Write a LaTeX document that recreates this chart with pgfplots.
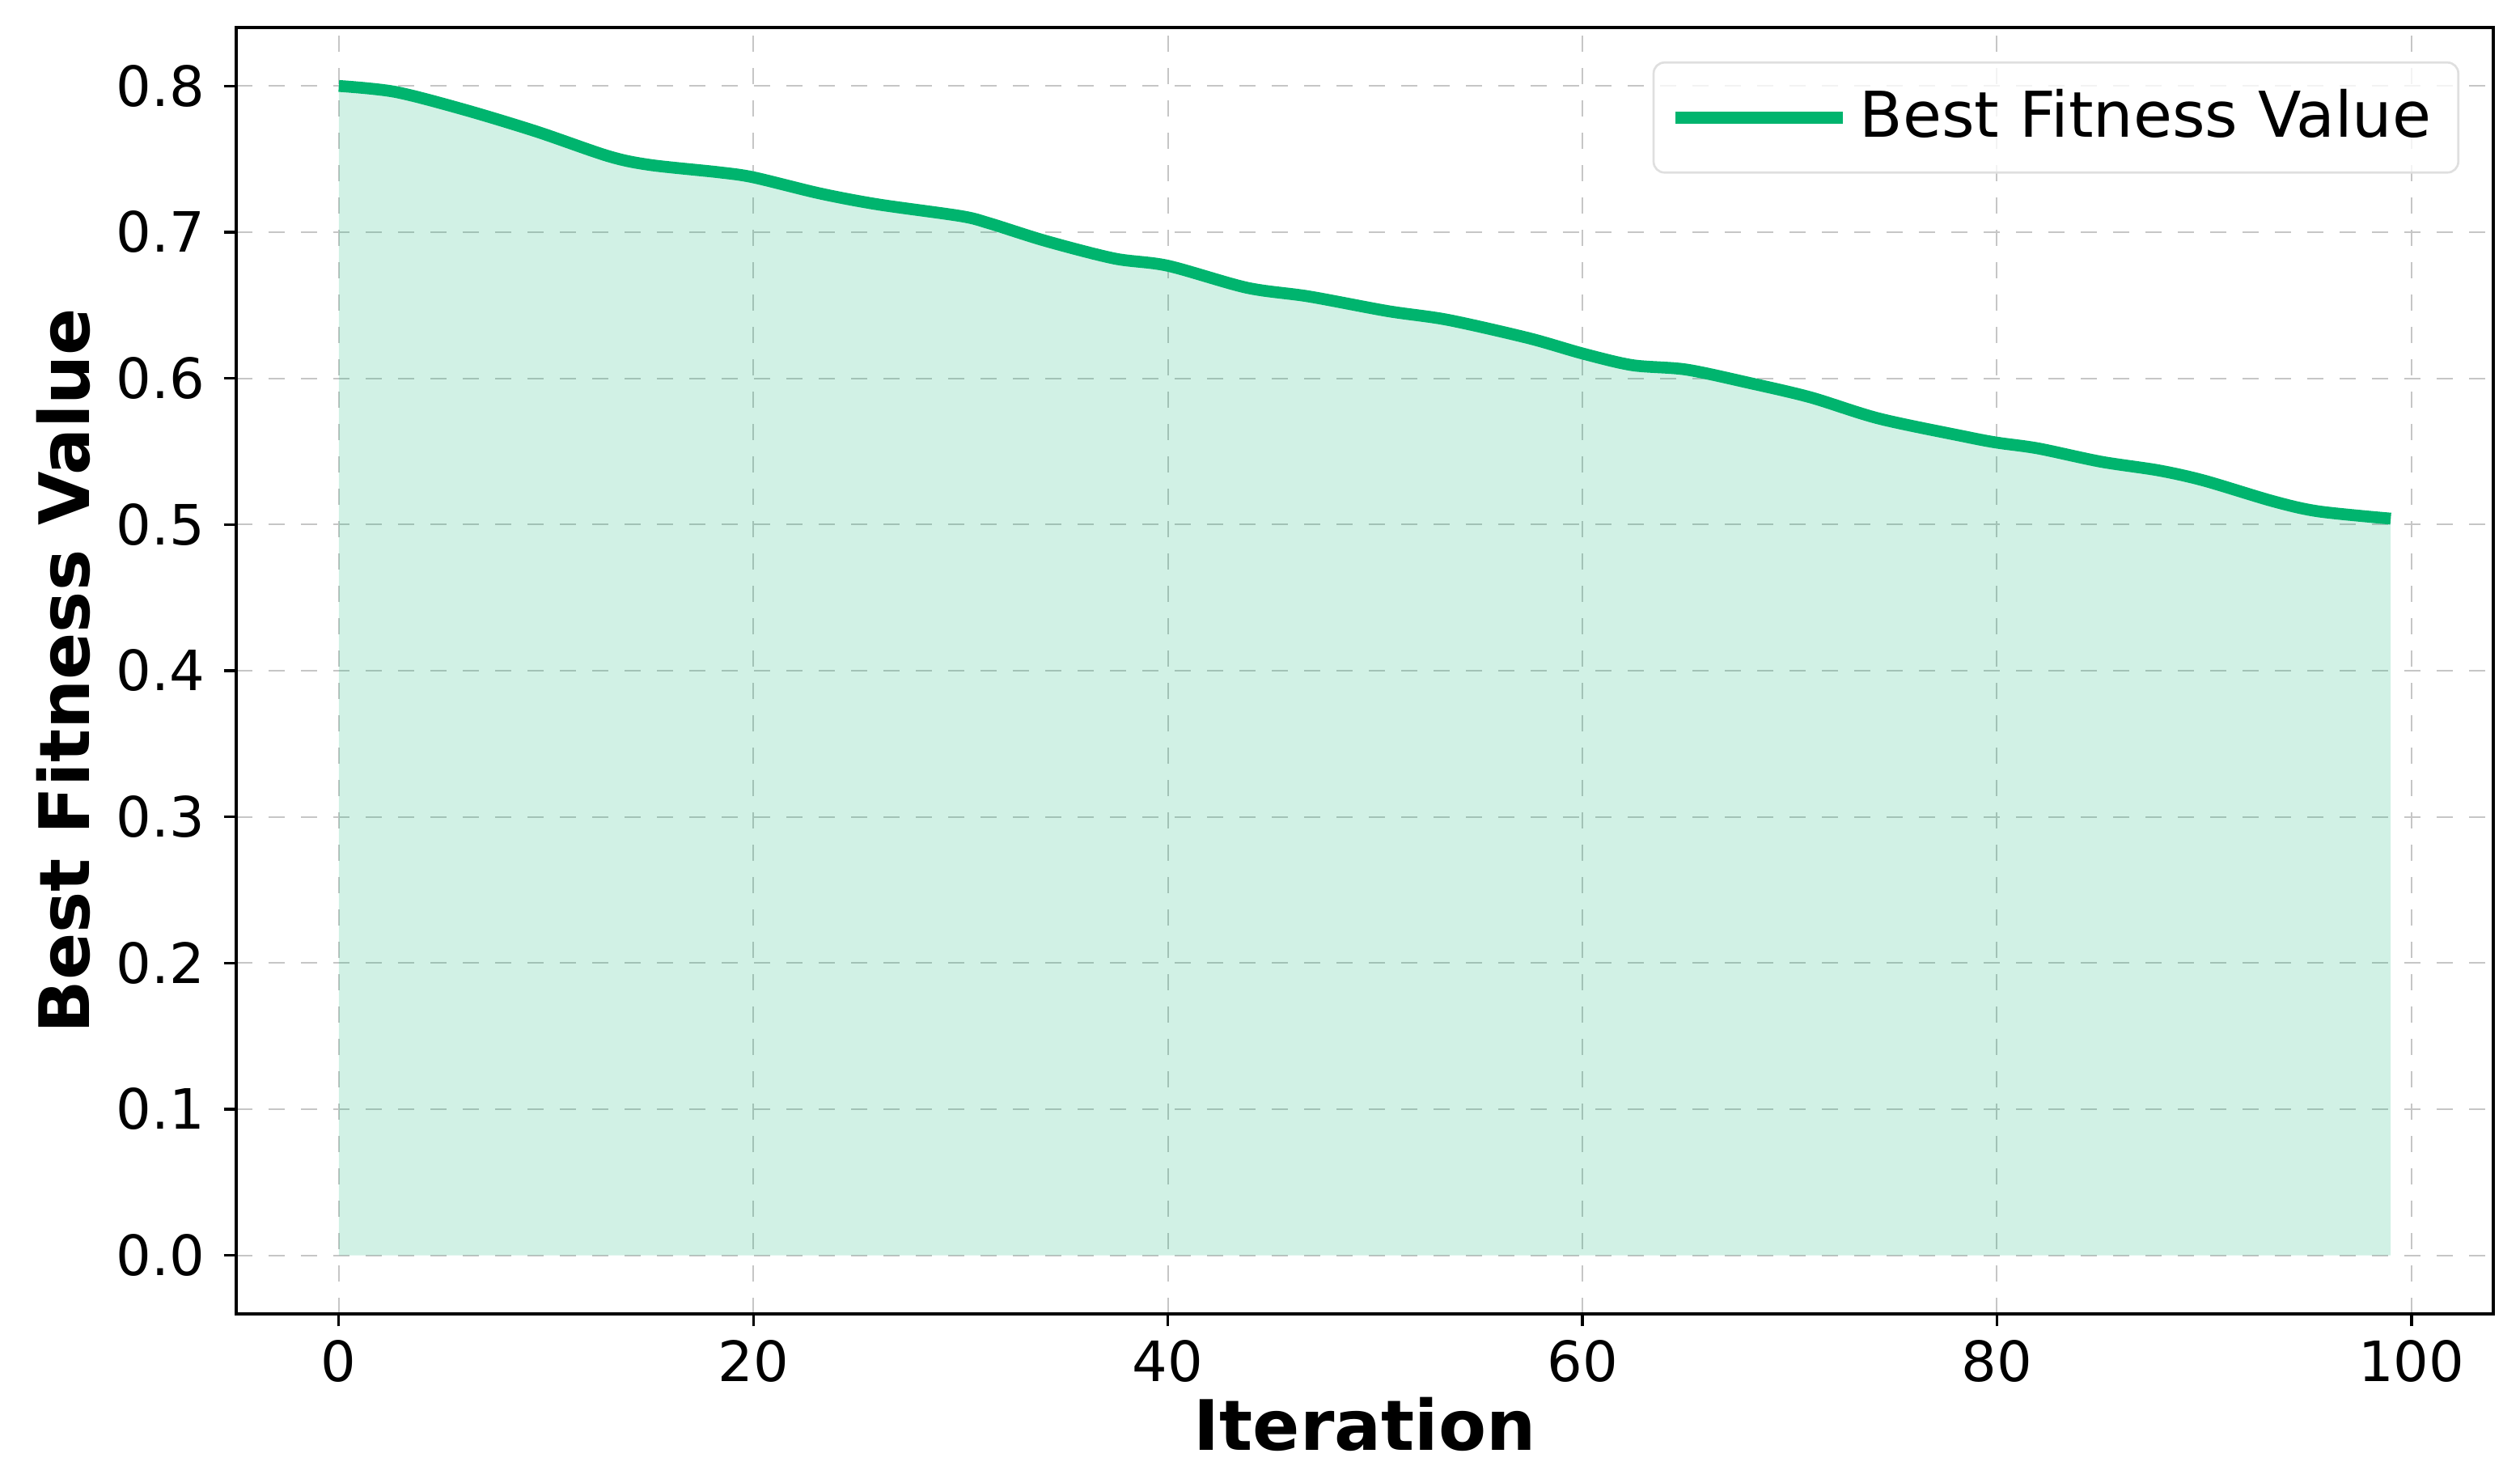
\documentclass[border=0pt]{standalone}
\usepackage{pgfplots}
\pgfplotsset{compat=1.18}
\usepackage{fontspec}
\setmainfont{DejaVu Sans}
\definecolor{linegreen}{RGB}{0,180,110}
\begin{document}
\begin{tikzpicture}
\begin{axis}[
  scale only axis,
  width=418.5pt, height=238.5pt,
  xmin=-4.95, xmax=103.95,
  ymin=-0.04, ymax=0.84,
  xtick={0,20,40,60,80,100},
  ytick={0,0.1,0.2,0.3,0.4,0.5,0.6,0.7,0.8},
  yticklabel style={/pgf/number format/.cd,fixed,fixed zerofill,precision=1},
  xticklabel style={yshift=1pt},
  /pgf/number format/assume math mode=true,
  tick label style={font=\fontsize{10.3}{12}\selectfont, black},
  tick align=outside,
  tick pos=left,
  major tick length=2.3pt,
  every tick/.style={black, line width=0.5pt},
  axis line style={black, line width=0.6pt},
  grid=major,
  major grid style={dashed, gray!45, line width=0.3pt},
  xlabel={\textbf{Iteration}},
  ylabel={\textbf{Best Fitness Value}},
  label style={font=\fontsize{12.9}{14}\selectfont},
  xlabel style={yshift=4pt},
  ylabel style={yshift=-2pt},
  legend style={at={(1,1)}, anchor=north east, xshift=-6.3pt, yshift=-6.3pt,
    draw=gray!25, rounded corners=2pt, font=\fontsize{11.7}{13}\selectfont,
    inner xsep=3pt, inner ysep=3pt, fill=white, fill opacity=0.8, text opacity=1},
  legend cell align=left,
  legend image code/.code={\draw[#1, line width=2.2pt] (0pt,0pt) -- (25pt,0pt);
    \path (0pt,0pt) -- (31pt,0pt);},
]
\addplot[fill=linegreen, fill opacity=0.18, draw=none, smooth, forget plot] coordinates {
(0,0.800) (2.7,0.796) (6,0.784) (9.5,0.769) (13,0.752) (15,0.746) (18.3,0.741) (20,0.7375)
(23.2,0.7265) (26,0.719) (30,0.711) (31.4,0.706) (34.1,0.694) (37.4,0.682) (40,0.677)
(43.8,0.662) (46.8,0.656) (50.6,0.646) (53.5,0.640) (57.4,0.6275) (60,0.617) (62.4,0.609)
(65,0.606) (68,0.597) (71,0.587) (74.3,0.5725) (78.5,0.560) (80,0.556) (82,0.552)
(85,0.543) (87.8,0.537) (90,0.530) (93.3,0.516) (95.5,0.509) (99,0.504)
} \closedcycle;
\addplot[linegreen, line width=2.2pt, smooth] coordinates {
(0,0.800) (2.7,0.796) (6,0.784) (9.5,0.769) (13,0.752) (15,0.746) (18.3,0.741) (20,0.7375)
(23.2,0.7265) (26,0.719) (30,0.711) (31.4,0.706) (34.1,0.694) (37.4,0.682) (40,0.677)
(43.8,0.662) (46.8,0.656) (50.6,0.646) (53.5,0.640) (57.4,0.6275) (60,0.617) (62.4,0.609)
(65,0.606) (68,0.597) (71,0.587) (74.3,0.5725) (78.5,0.560) (80,0.556) (82,0.552)
(85,0.543) (87.8,0.537) (90,0.530) (93.3,0.516) (95.5,0.509) (99,0.504)
};
\addlegendentry{Best Fitness Value}
\end{axis}
\path ([shift={(-43.8pt,-31.35pt)}]current axis.south west) rectangle ([shift={(4.95pt,5.1pt)}]current axis.north east);
\end{tikzpicture}
\end{document}
